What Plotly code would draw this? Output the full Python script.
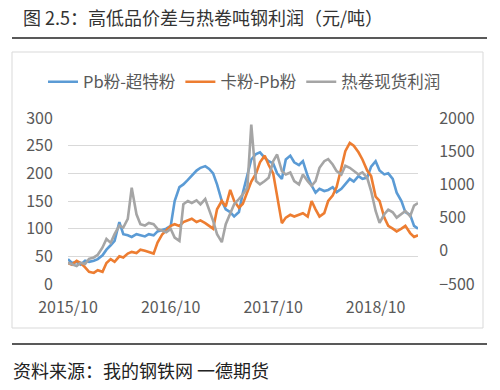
import pandas as pd
import plotly.graph_objects as go

# ---- data (semi-monthly readings, 2015-10 .. 2019-03) ----
dates = pd.date_range("2015-10-01", "2019-03-01", freq="SMS")

pb_minus_super = [45, 38, 40, 35, 42, 40, 42, 45, 52, 62, 70, 78, 112, 90, 88, 85, 90, 88, 86, 90,
                  88, 95, 97, 100, 105, 150, 175, 180, 188, 195, 205, 210, 213, 208, 200, 180, 150, 135,
                  130, 122, 130, 165, 195, 225, 235, 238, 228, 222, 218, 200, 190, 225, 232, 220, 215,
                  222, 195, 178, 165, 172, 168, 170, 175, 166, 172, 180, 190, 185, 195, 190, 192, 212,
                  222, 205, 198, 200, 190, 165, 150, 130, 125, 105, 100]

ka_minus_pb = [38, 35, 42, 38, 30, 22, 20, 25, 22, 38, 45, 40, 50, 48, 55, 58, 56, 62, 60, 58,
               55, 75, 90, 97, 105, 108, 105, 112, 115, 118, 112, 115, 110, 105, 100, 135, 150, 140,
               170, 150, 138, 145, 165, 185, 200, 220, 232, 215, 200, 160, 110, 120, 125, 122, 125,
               128, 122, 150, 135, 122, 128, 150, 160, 175, 210, 240, 255, 250, 238, 225, 205, 195,
               158, 150, 120, 105, 100, 95, 100, 105, 92, 85, 88]

hrc_profit = [-180, -200, -230, -180, -200, -120, -100, -60, 50, 180, 120, 250, 380, 350, 480, 950,
              550, 400, 380, 420, 400, 330, 300, 280, 330, 200, 150, 700, 750, 720, 760, 700, 780,
              620, 450, 250, 130, 400, 550, 700, 780, 850, 950, 1900, 1050, 1000, 1050, 1100, 1350,
              1450, 1200, 1150, 1180, 1050, 1000, 1150, 1050, 980, 1050, 1250, 1350, 1380, 1300,
              1200, 1150, 1280, 1250, 1200, 1150, 1180, 1100, 900, 600, 420, 550, 620, 580, 500,
              560, 600, 520, 680, 720]

series_names = ["Pb粉-超特粉", "卡粉-Pb粉", "热卷现货利润"]
left_ticks = [0, 50, 100, 150, 200, 250, 300]
right_ticks = [-500, 0, 500, 1000, 1500, 2000]
x_tick_dates = ["2015-10-01", "2016-10-01", "2017-10-01", "2018-10-01"]
x_tick_labels = ["2015/10", "2016/10", "2017/10", "2018/10"]
title_text = "图 2.5：高低品价差与热卷吨钢利润（元/吨）"
source_text = "资料来源：我的钢铁网 一德期货"

# ---- layout geometry ----
W, H = 500, 390
PL, PR, PT, PB = 68, 418, 118, 284


def px(x):
    return (x - PL) / (PR - PL)


def py(y):
    return (PB - y) / (PB - PT)


FONT = "Noto Sans CJK SC, Noto Sans, sans-serif"
colors = ["#5B9BD5", "#ED7D31", "#A5A5A5"]
TICKC = "#595959"

fig = go.Figure()
fig.add_trace(go.Scatter(x=dates, y=pb_minus_super, name=series_names[0], mode="lines",
                         line=dict(color=colors[0], width=2.6)))
fig.add_trace(go.Scatter(x=dates, y=ka_minus_pb, name=series_names[1], mode="lines",
                         line=dict(color=colors[1], width=2.6)))
fig.add_trace(go.Scatter(x=dates, y=hrc_profit, name=series_names[2], mode="lines", yaxis="y2",
                         line=dict(color=colors[2], width=2.6)))

fig.update_layout(
    width=W, height=H,
    margin=dict(l=PL, r=W - PR, t=PT, b=H - PB, pad=0),
    paper_bgcolor="white", plot_bgcolor="white",
    font=dict(family=FONT, size=16, color=TICKC),
    showlegend=True,
    legend=dict(orientation="h", x=px(43), y=py(82), xanchor="left", yanchor="middle",
                font=dict(size=16.5, color=TICKC), itemwidth=30, tracegroupgap=0,
                bgcolor="rgba(0,0,0,0)"),
    xaxis=dict(type="date", range=[dates[0], dates[-1]], tickvals=x_tick_dates,
               ticktext=x_tick_labels, showgrid=False, zeroline=False, showline=False,
               ticks="outside", ticklen=9, tickcolor="rgba(0,0,0,0)",
               tickfont=dict(size=16, color=TICKC)),
    yaxis=dict(range=[0, 300], tickvals=left_ticks, showgrid=True, gridcolor="#D9D9D9",
               gridwidth=1, zeroline=False, showline=False, ticks="outside", ticklen=11,
               tickcolor="rgba(0,0,0,0)", tickfont=dict(size=16, color=TICKC)),
    yaxis2=dict(range=[-500, 2000], tickvals=right_ticks, overlaying="y", side="right",
                showgrid=False, zeroline=False, showline=False, ticks="outside", ticklen=17,
                tickcolor="rgba(0,0,0,0)", tickfont=dict(size=16, color=TICKC)),
)

# frame box
fig.add_shape(type="rect", xref="paper", yref="paper", x0=px(12), x1=px(483), y0=py(328), y1=py(52),
              line=dict(color="#D9D9D9", width=1), fillcolor="rgba(0,0,0,0)", layer="below")
# rules
fig.add_shape(type="line", xref="paper", yref="paper", x0=px(12), x1=px(487), y0=py(38), y1=py(38),
              line=dict(color="#222222", width=1.5))
fig.add_shape(type="line", xref="paper", yref="paper", x0=px(12), x1=px(487), y0=py(344), y1=py(344),
              line=dict(color="#222222", width=1.5))

fig.add_annotation(text=title_text, xref="paper", yref="paper", x=px(21), y=py(17),
                   xanchor="left", yanchor="middle", showarrow=False,
                   font=dict(family=FONT, size=18, color="#333333"))
fig.add_annotation(text=source_text, xref="paper", yref="paper", x=px(11), y=py(370),
                   xanchor="left", yanchor="middle", showarrow=False,
                   font=dict(family=FONT, size=18, color="#222222"))

fig.write_html("out.html", config={"displayModeBar": False},
               post_script="document.body.style.margin='0';")
